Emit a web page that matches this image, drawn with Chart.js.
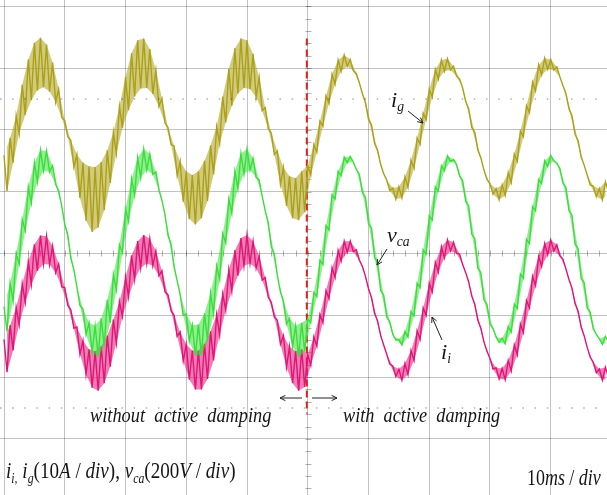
<!DOCTYPE html>
<html>
<head>
<meta charset="utf-8">
<script src="https://cdn.jsdelivr.net/npm/chart.js@4.4.1/dist/chart.umd.min.js"></script>
<style>
  html, body { margin: 0; padding: 0; background: #fff; overflow: hidden; }
  #wrap { position: relative; width: 607px; height: 495px; }
  #scope { position: absolute; left: 0; top: 0; }
  .lbl {
    position: absolute; white-space: nowrap; line-height: 1; color: #151515;
    font-family: "Liberation Serif", "DejaVu Serif", serif;
    transform-origin: 0 0;
  }
  .lbl i { font-style: italic; }
  .lbl sub { font-size: 0.62em; vertical-align: -0.32em; line-height: 0; }
  #arrows { position: absolute; left: 0; top: 0; }
</style>
</head>
<body>
<div id="wrap">
  <canvas id="scope" width="607" height="495"></canvas>
  <svg id="arrows" width="607" height="495"></svg>

  <div class="lbl" style="left:391px;top:89px;font-size:22px"><i>i<sub>g</sub></i></div>
  <div class="lbl" style="left:387px;top:224px;font-size:22px"><i>v<sub>ca</sub></i></div>
  <div class="lbl" style="left:441px;top:341px;font-size:22px"><i>i<sub>i</sub></i></div>

  <div class="lbl" style="left:90px;top:404px;font-size:22px;transform:scaleX(0.834)"><i>without&nbsp; active&nbsp; damping</i></div>
  <div class="lbl" style="left:343px;top:404px;font-size:22px;transform:scaleX(0.83)"><i>with&nbsp; active&nbsp; damping</i></div>

  <div class="lbl" style="left:6px;top:458px;font-size:24px;transform:scaleX(0.795)"><i>i<sub>i,</sub> i<sub>g</sub></i>(10<i>A</i> / <i>div</i>), <i>v<sub>ca</sub></i>(200<i>V</i> / <i>div</i>)</div>
  <div class="lbl" style="left:527px;top:466px;font-size:23px;transform:scaleX(0.78)">10<i>ms</i> / <i>div</i></div>
</div>

<script>
// time axis (ms) and trace envelopes, in screen divisions
const timeMs = [
  0, 1, 2, 3, 4, 5, 6, 7, 8, 9, 10, 11, 12, 13, 14, 15, 16, 17, 18, 19,
  20, 21, 22, 23, 24, 25, 26, 27, 28, 29, 30, 31, 32, 33, 34, 35, 36, 37, 38, 39,
  40, 41, 42, 43, 44, 45, 46, 47, 48, 49, 50, 51, 52, 53, 54, 55, 56, 57, 58, 59,
  60, 61, 62, 63, 64, 65, 66, 67, 68, 69, 70, 71, 72, 73, 74, 75, 76, 77, 78, 79,
  80, 81, 82, 83, 84, 85, 86, 87, 88, 89, 90, 91, 92, 93, 94, 95, 96, 97, 98, 99
];
const halfStep = 0.5;

const igHi = [
  1.59, 1.87, 2.23, 2.73, 3.14, 3.41, 3.49, 3.38, 3.09, 2.66,
  2.15, 1.83, 1.60, 1.47, 1.41, 1.40, 1.48, 1.67, 1.96, 2.38,
  2.86, 3.24, 3.45, 3.48, 3.31, 2.97, 2.51, 2.04, 1.74, 1.49,
  1.33, 1.27, 1.33, 1.50, 1.75, 2.05, 2.54, 2.99, 3.32, 3.48,
  3.45, 3.23, 2.85, 2.36, 1.95, 1.66, 1.39, 1.25, 1.22, 1.33,
  1.42, 1.76, 2.14, 2.55, 2.90, 3.13, 3.21, 3.14, 2.91, 2.58,
  2.17, 1.78, 1.44, 1.19, 1.06, 1.08, 1.24, 1.51, 1.87, 2.27,
  2.66, 2.98, 3.13, 3.15, 3.03, 2.82, 2.46, 2.04, 1.67, 1.35,
  1.13, 1.05, 1.11, 1.31, 1.61, 1.98, 2.39, 2.77, 3.05, 3.16,
  3.14, 3.02, 2.72, 2.34, 1.93, 1.56, 1.27, 1.09, 1.05, 1.16
];
const igLo = [
  1.01, 1.47, 1.94, 2.24, 2.48, 2.64, 2.69, 2.62, 2.45, 2.20,
  1.89, 1.40, 0.90, 0.53, 0.35, 0.42, 0.70, 1.14, 1.62, 2.03,
  2.32, 2.54, 2.67, 2.68, 2.58, 2.38, 2.11, 1.76, 1.26, 0.84,
  0.56, 0.47, 0.57, 0.85, 1.28, 1.78, 2.12, 2.39, 2.59, 2.68,
  2.66, 2.53, 2.31, 2.02, 1.60, 1.12, 0.77, 0.57, 0.54, 0.67,
  1.27, 1.64, 2.06, 2.43, 2.74, 2.95, 3.03, 2.96, 2.76, 2.45,
  2.08, 1.67, 1.29, 1.02, 0.88, 0.90, 1.07, 1.38, 1.77, 2.17,
  2.53, 2.82, 2.95, 2.97, 2.87, 2.68, 2.34, 1.96, 1.55, 1.20,
  0.96, 0.87, 0.94, 1.15, 1.49, 1.89, 2.28, 2.63, 2.89, 2.98,
  2.97, 2.86, 2.59, 2.23, 1.83, 1.43, 1.11, 0.92, 0.87, 0.99
];

const vcaHi = [
  -0.86, -0.48, -0.01, 0.55, 1.08, 1.47, 1.67, 1.66, 1.42, 1.01,
  0.47, -0.08, -0.54, -0.90, -1.12, -1.17, -1.05, -0.75, -0.34, 0.14,
  0.72, 1.21, 1.55, 1.69, 1.61, 1.32, 0.86, 0.29, -0.22, -0.66,
  -0.98, -1.16, -1.15, -0.97, -0.64, -0.20, 0.32, 0.88, 1.33, 1.62,
  1.69, 1.54, 1.19, 0.69, 0.11, -0.36, -0.77, -1.05, -1.17, -1.12,
  -1.06, -0.63, -0.11, 0.45, 0.95, 1.33, 1.56, 1.57, 1.36, 0.98,
  0.48, -0.07, -0.60, -1.03, -1.31, -1.39, -1.26, -0.94, -0.48, 0.06,
  0.61, 1.08, 1.42, 1.58, 1.52, 1.25, 0.84, 0.31, -0.24, -0.75,
  -1.14, -1.35, -1.37, -1.18, -0.82, -0.33, 0.23, 0.76, 1.20, 1.50,
  1.59, 1.46, 1.14, 0.69, 0.15, -0.40, -0.88, -1.22, -1.38, -1.34
];
const vcaLo = [
  -1.26, -0.77, -0.17, 0.37, 0.82, 1.16, 1.34, 1.32, 1.12, 0.77,
  0.30, -0.26, -0.84, -1.31, -1.60, -1.67, -1.50, -1.12, -0.59, 0.01,
  0.52, 0.94, 1.23, 1.35, 1.28, 1.03, 0.63, 0.15, -0.44, -1.00,
  -1.42, -1.65, -1.64, -1.41, -0.98, -0.42, 0.17, 0.65, 1.05, 1.29,
  1.35, 1.23, 0.93, 0.50, -0.01, -0.62, -1.14, -1.51, -1.67, -1.59,
  -1.12, -0.70, -0.18, 0.38, 0.88, 1.26, 1.47, 1.48, 1.28, 0.91,
  0.41, -0.14, -0.67, -1.10, -1.40, -1.48, -1.35, -1.01, -0.55, -0.01,
  0.54, 1.01, 1.34, 1.49, 1.44, 1.18, 0.77, 0.24, -0.31, -0.82,
  -1.21, -1.44, -1.46, -1.27, -0.89, -0.40, 0.16, 0.69, 1.13, 1.41,
  1.50, 1.38, 1.07, 0.62, 0.08, -0.47, -0.95, -1.31, -1.47, -1.43
];

const iiHi = [
  -1.39, -1.16, -0.87, -0.49, -0.13, 0.15, 0.29, 0.28, 0.12, -0.17,
  -0.55, -0.91, -1.19, -1.41, -1.55, -1.58, -1.50, -1.33, -1.07, -0.78,
  -0.38, -0.03, 0.20, 0.30, 0.24, 0.04, -0.28, -0.67, -1.00, -1.27,
  -1.47, -1.57, -1.57, -1.46, -1.26, -0.99, -0.65, -0.26, 0.05, 0.25,
  0.30, 0.20, -0.04, -0.39, -0.79, -1.08, -1.33, -1.51, -1.58, -1.55,
  -1.64, -1.35, -0.99, -0.60, -0.23, 0.05, 0.20, 0.20, 0.06, -0.21,
  -0.57, -0.97, -1.33, -1.63, -1.82, -1.87, -1.78, -1.57, -1.25, -0.88,
  -0.48, -0.14, 0.11, 0.22, 0.18, -0.01, -0.31, -0.69, -1.08, -1.43,
  -1.70, -1.85, -1.86, -1.73, -1.48, -1.14, -0.76, -0.37, -0.05, 0.16,
  0.22, 0.14, -0.09, -0.42, -0.81, -1.19, -1.52, -1.76, -1.87, -1.84
];
const iiLo = [
  -1.92, -1.57, -1.15, -0.79, -0.50, -0.28, -0.17, -0.18, -0.31, -0.54,
  -0.84, -1.21, -1.63, -1.96, -2.17, -2.22, -2.10, -1.83, -1.45, -1.02,
  -0.70, -0.42, -0.23, -0.16, -0.20, -0.36, -0.62, -0.93, -1.34, -1.74,
  -2.04, -2.20, -2.20, -2.03, -1.73, -1.32, -0.92, -0.61, -0.36, -0.20,
  -0.16, -0.24, -0.43, -0.71, -1.03, -1.47, -1.84, -2.10, -2.22, -2.16,
  -1.81, -1.50, -1.12, -0.73, -0.39, -0.12, 0.02, 0.03, -0.11, -0.37,
  -0.71, -1.09, -1.48, -1.79, -1.99, -2.05, -1.96, -1.73, -1.39, -1.00,
  -0.62, -0.30, -0.07, 0.04, 0.00, -0.18, -0.46, -0.82, -1.21, -1.58,
  -1.87, -2.03, -2.04, -1.90, -1.64, -1.28, -0.88, -0.52, -0.21, -0.02,
  0.04, -0.04, -0.25, -0.56, -0.93, -1.33, -1.68, -1.93, -2.05, -2.01
];

// grid: 10 ms/div horizontally, 1 div vertically
const xTicks = [0, 10, 20, 30, 40, 50, 60, 70, 80, 90];
const yTicks = [-3, -2, -1, 0, 1, 2, 3, 4];
const markerLevels = [2.5, -2.5];
const switchMs = 49.85;
const switchSpan = [3.48, -2.59];

const xMin = -0.66, xMax = 99.26;
const yMin = -3.908, yMax = 4.102;
const gridColour = 'rgba(0,0,0,0.24)';

// each trace: a filled band between the envelopes, then the ripple zigzag on top
function traceSets(hi, lo, rgb) {
  const upper = timeMs.map((t, i) => ({ x: t, y: hi[i] }));
  const lower = timeMs.map((t, i) => ({ x: t + halfStep, y: lo[i] }));
  const zig = [];
  timeMs.forEach((t, i) => {
    zig.push({ x: t, y: hi[i] });
    zig.push({ x: t + halfStep, y: lo[i] });
  });
  const base = { pointRadius: 0, tension: 0, showLine: true };
  return [
    { ...base, data: upper, borderWidth: 0, fill: false },
    { ...base, data: lower, borderWidth: 0, fill: '-1', backgroundColor: `rgba(${rgb},0.55)` },
    { ...base, data: zig, borderWidth: 1.4, borderColor: `rgb(${rgb})`, fill: false }
  ];
}

// little tick marks along the two centre lines
const centreTicks = {
  id: 'centreTicks',
  beforeDatasetsDraw(chart) {
    const { ctx, scales: { x, y } } = chart;
    const cx = Math.round(x.getPixelForValue(50)) + 0.5;
    const cy = Math.round(y.getPixelForValue(0)) + 0.5;
    ctx.save();
    ctx.strokeStyle = 'rgba(0,0,0,0.3)';
    ctx.lineWidth = 1;
    ctx.beginPath();
    for (let v = -20; v <= 20; v++) {
      const py = Math.round(y.getPixelForValue(v / 5)) + 0.5;
      ctx.moveTo(cx - 3, py); ctx.lineTo(cx + 3, py);
    }
    for (let t = 0; t <= 50; t++) {
      const px = Math.round(x.getPixelForValue(t * 2)) + 0.5;
      ctx.moveTo(px, cy - 3); ctx.lineTo(px, cy + 3);
    }
    ctx.stroke();
    ctx.restore();
  }
};

const datasets = [];
markerLevels.forEach(lv => {
  datasets.push({
    data: [{ x: xMin, y: lv }, { x: xMax, y: lv }],
    borderColor: 'rgba(0,0,0,0.32)', borderWidth: 1.5, borderDash: [1.5, 10.65],
    pointRadius: 0, showLine: true, fill: false
  });
});
datasets.push(...traceSets(igHi, igLo, '172,160,24'));
datasets.push(...traceSets(vcaHi, vcaLo, '58,222,58'));
datasets.push(...traceSets(iiHi, iiLo, '226,20,120'));
datasets.push({
  data: [{ x: switchMs, y: switchSpan[0] }, { x: switchMs, y: switchSpan[1] }],
  borderColor: '#e3201b', borderWidth: 2, borderDash: [7, 4],
  pointRadius: 0, showLine: true, fill: false
});

new Chart(document.getElementById('scope'), {
  type: 'scatter',
  data: { datasets: datasets },
  options: {
    responsive: false,
    animation: false,
    layout: { padding: 0 },
    plugins: { legend: { display: false }, tooltip: { enabled: false } },
    scales: {
      x: {
        type: 'linear', min: xMin, max: xMax,
        afterBuildTicks: s => { s.ticks = xTicks.map(v => ({ value: v })); },
        ticks: { display: false },
        grid: { color: gridColour, drawTicks: false, lineWidth: 1 },
        border: { display: false }
      },
      y: {
        type: 'linear', min: yMin, max: yMax,
        afterBuildTicks: s => { s.ticks = yTicks.map(v => ({ value: v })); },
        ticks: { display: false },
        grid: { color: gridColour, drawTicks: false, lineWidth: 1 },
        border: { display: false }
      }
    }
  },
  plugins: [centreTicks]
});

// annotation arrows
const arrows = [
  [408, 111, 423, 123],
  [387, 249, 377, 265],
  [442, 340, 432, 317],
  [302, 398, 280, 398],
  [312, 398, 337, 398]
];
const svg = document.getElementById('arrows');
const ns = 'http://www.w3.org/2000/svg';
arrows.forEach(([x1, y1, x2, y2]) => {
  const a = Math.atan2(y2 - y1, x2 - x1), h = 6;
  const p = document.createElementNS(ns, 'path');
  const l = [x2 - h * Math.cos(a - 0.45), y2 - h * Math.sin(a - 0.45)];
  const r = [x2 - h * Math.cos(a + 0.45), y2 - h * Math.sin(a + 0.45)];
  p.setAttribute('d', `M${x1},${y1}L${x2},${y2}M${l[0]},${l[1]}L${x2},${y2}L${r[0]},${r[1]}`);
  p.setAttribute('stroke', '#222');
  p.setAttribute('stroke-width', '1');
  p.setAttribute('fill', 'none');
  svg.appendChild(p);
});
</script>
</body>
</html>
